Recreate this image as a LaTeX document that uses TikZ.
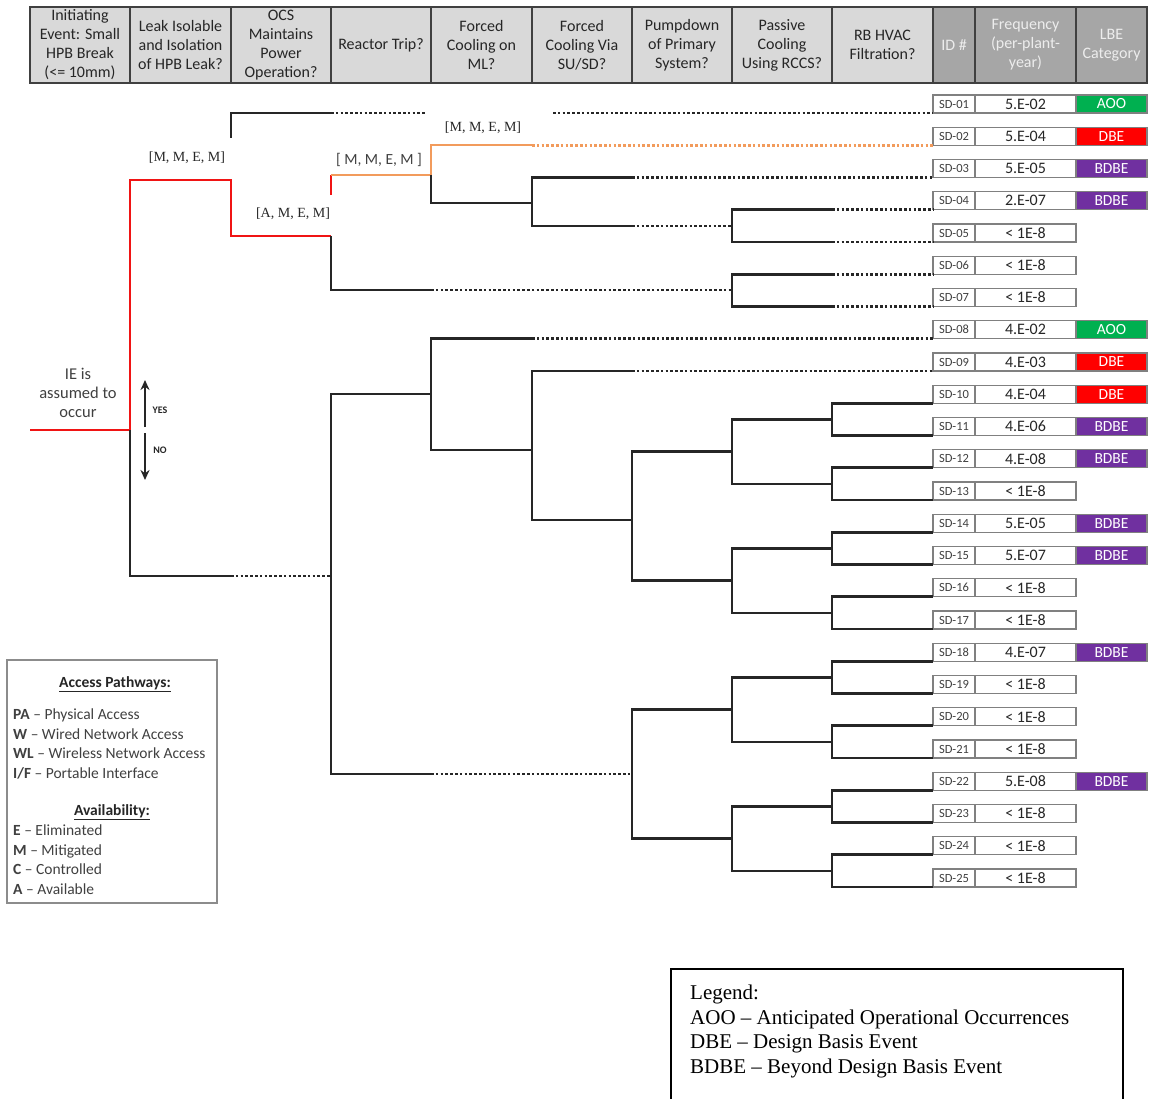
\documentclass[tikz,border=0pt]{standalone}
\usepackage{fontspec}
\setmainfont{Liberation Serif}
\newfontfamily\calfont{Carlito}
\usetikzlibrary{positioning,arrows.meta}

\definecolor{hdrlight}{HTML}{D9D9D9}
\definecolor{hdrdark}{HTML}{A6A6A6}
\definecolor{hdrrule}{HTML}{404040}
\definecolor{cellrule}{HTML}{808080}
\definecolor{aoogreen}{HTML}{00B050}
\definecolor{dbered}{HTML}{FF0000}
\definecolor{bdbepurple}{HTML}{7030A0}
\definecolor{pathred}{HTML}{F01414}
\definecolor{pathorange}{HTML}{F29B5C}

\begin{document}
\begin{tikzpicture}[x=1pt,y=-1pt]
  \tikzstyle{hcell}=[draw=hdrrule, line width=1.8pt, fill=hdrlight, text=black!85, minimum height=76pt, inner sep=0pt, outer sep=0pt, align=center, font=\calfont\fontsize{16}{19}\selectfont]
  \tikzstyle{hdark}=[hcell, fill=hdrdark, text=white!93!black]
  \tikzstyle{idbox}=[draw=cellrule, line width=1.3pt, fill=white, minimum width=42pt, minimum height=18pt, inner sep=0pt, outer sep=0pt, font=\calfont\fontsize{12.5}{13}\selectfont, text=black!75]
  \tikzstyle{fqbox}=[idbox, minimum width=101pt, font=\calfont\fontsize{16}{17}\selectfont, text=black!85]
  \tikzstyle{catbox}=[idbox, minimum width=71pt, font=\calfont\fontsize{15.5}{16}\selectfont, text=white]
  \tikzstyle{aoo}=[catbox, fill=aoogreen]
  \tikzstyle{dbe}=[catbox, fill=dbered]
  \tikzstyle{bdbe}=[catbox, fill=bdbepurple]
  \tikzstyle{tline}=[line width=2.7pt, black!85]
  \tikzstyle{dline}=[tline, dash pattern=on 2.6pt off 2.2pt]
  \tikzstyle{rline}=[line width=2.7pt, pathred]
  \tikzstyle{oline}=[line width=2.2pt, pathorange]
  \tikzstyle{odline}=[oline, line width=2.7pt, dash pattern=on 2.6pt off 2.2pt]
  \tikzstyle{sflabel}=[font=\calfont\fontsize{16.5}{19}\selectfont, text=black!75, align=center]
  \tikzstyle{selabel}=[font=\fontsize{14}{15}\selectfont, text=black!85]
  \tikzstyle{keyhead}=[font=\calfont\bfseries\fontsize{15.5}{19.5}\selectfont, text=black!85]
  \tikzstyle{keytext}=[font=\calfont\fontsize{15.5}{19.5}\selectfont, text=black!75, align=left, inner sep=0pt, anchor=north west]
  \tikzstyle{yesno}=[font=\calfont\bfseries\fontsize{10}{10}\selectfont, text=black!85]

  \path[use as bounding box, fill=white] (0,0) rectangle (1156,1099);

  % header row
  \node[hcell, minimum width=100pt] (h1) at (80,45) {Initiating\\Event: Small\\HPB Break\\(<= 10mm)};
  \node[hcell, minimum width=101pt, right=0pt of h1] (h2) {Leak Isolable\\and Isolation\\of HPB Leak?};
  \node[hcell, minimum width=100pt, right=0pt of h2] (h3) {OCS\\Maintains\\Power\\Operation?};
  \node[hcell, minimum width=100pt, right=0pt of h3] (h4) {Reactor Trip?};
  \node[hcell, minimum width=101pt, right=0pt of h4] (h5) {Forced\\Cooling on\\ML?};
  \node[hcell, minimum width=100pt, right=0pt of h5] (h6) {Forced\\Cooling Via\\SU/SD?};
  \node[hcell, minimum width=100pt, right=0pt of h6] (h7) {Pumpdown\\of Primary\\System?};
  \node[hcell, minimum width=100pt, right=0pt of h7] (h8) {Passive\\Cooling\\Using RCCS?};
  \node[hcell, minimum width=101pt, right=0pt of h8] (h9) {RB HVAC\\Filtration?};
  \node[hdark, minimum width=42pt, right=0pt of h9] (h10) {ID \#};
  \node[hdark, minimum width=101pt, right=0pt of h10] (h11) {Frequency\\(per-plant-\\year)};
  \node[hdark, minimum width=71pt, right=0pt of h11] (h12) {LBE\\Category};

  % end states
  \node[idbox] (id1) at (954,104) {SD-01}; \node[fqbox, right=0pt of id1] (fq1) {5.E-02}; \node[aoo, right=0pt of fq1] (cat1) {AOO};
  \node[idbox, below=14.25pt of id1] (id2) {SD-02}; \node[fqbox, right=0pt of id2] (fq2) {5.E-04}; \node[dbe, right=0pt of fq2] (cat2) {DBE};
  \node[idbox, below=14.25pt of id2] (id3) {SD-03}; \node[fqbox, right=0pt of id3] (fq3) {5.E-05}; \node[bdbe, right=0pt of fq3] (cat3) {BDBE};
  \node[idbox, below=14.25pt of id3] (id4) {SD-04}; \node[fqbox, right=0pt of id4] (fq4) {2.E-07}; \node[bdbe, right=0pt of fq4] (cat4) {BDBE};
  \node[idbox, below=14.25pt of id4] (id5) {SD-05}; \node[fqbox, right=0pt of id5] (fq5) {< 1E-8};
  \node[idbox, below=14.25pt of id5] (id6) {SD-06}; \node[fqbox, right=0pt of id6] (fq6) {< 1E-8};
  \node[idbox, below=14.25pt of id6] (id7) {SD-07}; \node[fqbox, right=0pt of id7] (fq7) {< 1E-8};
  \node[idbox, below=14.25pt of id7] (id8) {SD-08}; \node[fqbox, right=0pt of id8] (fq8) {4.E-02}; \node[aoo, right=0pt of fq8] (cat8) {AOO};
  \node[idbox, below=14.25pt of id8] (id9) {SD-09}; \node[fqbox, right=0pt of id9] (fq9) {4.E-03}; \node[dbe, right=0pt of fq9] (cat9) {DBE};
  \node[idbox, below=14.25pt of id9] (id10) {SD-10}; \node[fqbox, right=0pt of id10] (fq10) {4.E-04}; \node[dbe, right=0pt of fq10] (cat10) {DBE};
  \node[idbox, below=14.25pt of id10] (id11) {SD-11}; \node[fqbox, right=0pt of id11] (fq11) {4.E-06}; \node[bdbe, right=0pt of fq11] (cat11) {BDBE};
  \node[idbox, below=14.25pt of id11] (id12) {SD-12}; \node[fqbox, right=0pt of id12] (fq12) {4.E-08}; \node[bdbe, right=0pt of fq12] (cat12) {BDBE};
  \node[idbox, below=14.25pt of id12] (id13) {SD-13}; \node[fqbox, right=0pt of id13] (fq13) {< 1E-8};
  \node[idbox, below=14.25pt of id13] (id14) {SD-14}; \node[fqbox, right=0pt of id14] (fq14) {5.E-05}; \node[bdbe, right=0pt of fq14] (cat14) {BDBE};
  \node[idbox, below=14.25pt of id14] (id15) {SD-15}; \node[fqbox, right=0pt of id15] (fq15) {5.E-07}; \node[bdbe, right=0pt of fq15] (cat15) {BDBE};
  \node[idbox, below=14.25pt of id15] (id16) {SD-16}; \node[fqbox, right=0pt of id16] (fq16) {< 1E-8};
  \node[idbox, below=14.25pt of id16] (id17) {SD-17}; \node[fqbox, right=0pt of id17] (fq17) {< 1E-8};
  \node[idbox, below=14.25pt of id17] (id18) {SD-18}; \node[fqbox, right=0pt of id18] (fq18) {4.E-07}; \node[bdbe, right=0pt of fq18] (cat18) {BDBE};
  \node[idbox, below=14.25pt of id18] (id19) {SD-19}; \node[fqbox, right=0pt of id19] (fq19) {< 1E-8};
  \node[idbox, below=14.25pt of id19] (id20) {SD-20}; \node[fqbox, right=0pt of id20] (fq20) {< 1E-8};
  \node[idbox, below=14.25pt of id20] (id21) {SD-21}; \node[fqbox, right=0pt of id21] (fq21) {< 1E-8};
  \node[idbox, below=14.25pt of id21] (id22) {SD-22}; \node[fqbox, right=0pt of id22] (fq22) {5.E-08}; \node[bdbe, right=0pt of fq22] (cat22) {BDBE};
  \node[idbox, below=14.25pt of id22] (id23) {SD-23}; \node[fqbox, right=0pt of id23] (fq23) {< 1E-8};
  \node[idbox, below=14.25pt of id23] (id24) {SD-24}; \node[fqbox, right=0pt of id24] (fq24) {< 1E-8};
  \node[idbox, below=14.25pt of id24] (id25) {SD-25}; \node[fqbox, right=0pt of id25] (fq25) {< 1E-8};

  % branch points
  \coordinate (ie) at (30,430);
  \coordinate (j0) at (130,430);
  \coordinate (j1) at (231,180);
  \coordinate (j1top) at (231,138);
  \coordinate (j2) at (331,236);
  \coordinate (j2red) at (331,195);
  \coordinate (j3) at (431,175);
  \coordinate (j4) at (532,203);
  \coordinate (j5) at (732,226);
  \coordinate (j6) at (732,290);
  \coordinate (gapl) at (425,113);
  \coordinate (gapr) at (553,113);
  \coordinate (k0) at (331,576);
  \coordinate (k1) at (431,394);
  \coordinate (k2) at (532,450);
  \coordinate (k3) at (632,520);
  \coordinate (k4) at (732,451.6);
  \coordinate (k5) at (832,419.4);
  \coordinate (k6) at (832,483.9);
  \coordinate (k7) at (732,580.6);
  \coordinate (k8) at (832,548.4);
  \coordinate (k9) at (832,612.9);
  \coordinate (k10) at (632,774);
  \coordinate (k11) at (732,709.6);
  \coordinate (k12) at (832,677.4);
  \coordinate (k13) at (832,741.9);
  \coordinate (k14) at (732,838.6);
  \coordinate (k15) at (832,806.4);
  \coordinate (k16) at (832,870.9);

  % yes side
  \draw[rline] (ie) -- (j0) |- (j1) |- (j2);
  \draw[rline] (j3 -| j2) -- (j2red);
  \draw[oline] (j3 -| j2) -- (j3) |- ([xshift=101pt]j3 |- id2.south west);
  \draw[odline] ([xshift=101pt]j3 |- id2.south west) -- (id2.south west);
  \draw[tline] (j1top) |- ([xshift=100pt]j1 |- id1.south west);
  \draw[dline] ([xshift=100pt]j1 |- id1.south west) -- (gapl);
  \draw[dline] (gapr) -- (id1.south west);
  \draw[tline] (j3) |- (j4);
  \draw[tline] ([xshift=100pt]j4 |- id3.south west) -| (j4) |- ([xshift=100pt]j4 |- j5);
  \draw[dline] ([xshift=100pt]j4 |- id3.south west) -- (id3.south west);
  \draw[dline] ([xshift=100pt]j4 |- j5) -- (j5);
  \draw[tline] ([xshift=100pt]j5 |- id4.south west) -| (j5) |- ([xshift=100pt]j5 |- id5.south west);
  \draw[dline] ([xshift=100pt]j5 |- id4.south west) -- (id4.south west);
  \draw[dline] ([xshift=100pt]j5 |- id5.south west) -- (id5.south west);
  \draw[tline] (j2) |- ([xshift=100pt]j2 |- j6);
  \draw[dline] ([xshift=100pt]j2 |- j6) -- (j6);
  \draw[tline] ([xshift=100pt]j6 |- id6.south west) -| (j6) |- ([xshift=100pt]j6 |- id7.south west);
  \draw[dline] ([xshift=100pt]j6 |- id6.south west) -- (id6.south west);
  \draw[dline] ([xshift=100pt]j6 |- id7.south west) -- (id7.south west);

  % no side
  \draw[tline] (j0) |- ([xshift=101pt]j0 |- k0);
  \draw[dline] ([xshift=101pt]j0 |- k0) -- (k0);
  \draw[tline] (k1) -| (k0) |- ([xshift=100pt]k0 |- k10);
  \draw[dline] ([xshift=100pt]k0 |- k10) -- (k10);
  \draw[tline] ([xshift=101pt]k1 |- id8.south west) -| (k1) |- (k2);
  \draw[dline] ([xshift=101pt]k1 |- id8.south west) -- (id8.south west);
  \draw[tline] ([xshift=100pt]k2 |- id9.south west) -| (k2) |- (k3);
  \draw[dline] ([xshift=100pt]k2 |- id9.south west) -- (id9.south west);
  \draw[tline] (k4) -| (k3) |- (k7);
  \draw[tline] (k5) -| (k4) |- (k6);
  \draw[tline] (k8) -| (k7) |- (k9);
  \draw[tline] (id10.south west) -| (k5) |- (id11.south west);
  \draw[tline] (id12.south west) -| (k6) |- (id13.south west);
  \draw[tline] (id14.south west) -| (k8) |- (id15.south west);
  \draw[tline] (id16.south west) -| (k9) |- (id17.south west);
  \draw[tline] (k11) -| (k10) |- (k14);
  \draw[tline] (k12) -| (k11) |- (k13);
  \draw[tline] (k15) -| (k14) |- (k16);
  \draw[tline] (id18.south west) -| (k12) |- (id19.south west);
  \draw[tline] (id20.south west) -| (k13) |- (id21.south west);
  \draw[tline] (id22.south west) -| (k15) |- (id23.south west);
  \draw[tline] (id24.south west) -| (k16) |- (id25.south west);

  % availability labels
  \node[selabel] (mmem1) at (187,158) {[M, M, E, M]};
  \node[selabel] (amem) at (293,214) {[A, M, E, M]};
  \node[sflabel, font=\calfont\fontsize{15.5}{16}\selectfont] (mmem2) at (379,160) {[ M, M, E, M ]};
  \node[selabel] (mmem3) at (483,128) {[M, M, E, M]};

  \node[sflabel] (ietxt) at (78,393) {IE is\\assumed to\\occur};
  \coordinate (yesfoot) at (145,427);
  \coordinate (yestip) at (145,380);
  \coordinate (nofoot) at (145,433);
  \coordinate (notip) at (145,480);
  \draw[line width=2.2pt, black!85, -{Stealth[length=10pt, width=9pt]}] (yesfoot) -- (yestip);
  \draw[line width=2.2pt, black!85, -{Stealth[length=10pt, width=9pt]}] (nofoot) -- (notip);
  \node[yesno] (yes) at (160,410) {YES};
  \node[yesno] (no) at (160,450) {NO};

  % key
  \node[draw=black!45, line width=1.5pt, minimum width=210pt, minimum height=243pt, inner sep=0pt] (keybox) at (112,781.5) {};
  \node[keyhead] (keyhd1) at (115,684) {\underline{Access Pathways:}};
  \node[keytext] (keytx1) at (13,709) {\textbf{PA} – Physical Access\\\textbf{W} – Wired Network Access\\\textbf{WL} – Wireless Network Access\\\textbf{I/F} – Portable Interface};
  \node[keyhead] (keyhd2) at (112,812) {\underline{Availability:}};
  \node[keytext] (keytx2) at (13,825) {\textbf{E} – Eliminated\\\textbf{M} – Mitigated\\\textbf{C} – Controlled\\\textbf{A} – Available};

  % legend
  \node[draw=black, line width=1.8pt, anchor=north west, minimum width=452pt, minimum height=160pt, inner sep=0pt] (legbox) at (670,968) {};
  \node[anchor=north west, align=left, inner sep=0pt, font=\fontsize{21}{24.5}\selectfont] (legtext) at (690,985) {Legend:\\AOO – Anticipated Operational Occurrences\\DBE – Design Basis Event\\BDBE – Beyond Design Basis Event};
\end{tikzpicture}
\end{document}
